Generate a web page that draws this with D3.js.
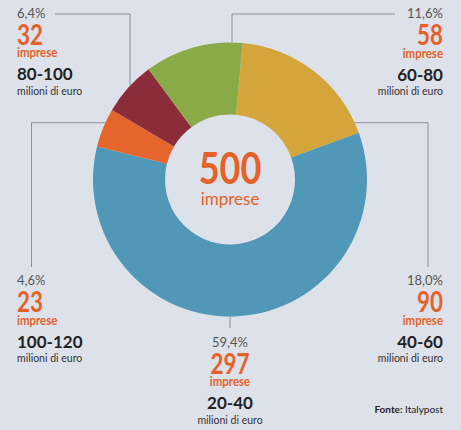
<!DOCTYPE html>
<html>
<head>
<meta charset="utf-8">
<script src="https://cdn.jsdelivr.net/npm/d3@7"></script>
<style>
  html, body { margin: 0; padding: 0; background: #dde1e9; }
  svg { display: block; font-family: Lato, "Open Sans", sans-serif; }
</style>
</head>
<body>
<svg id="chart" width="461" height="430"></svg>
<script>
// clockwise from the top
const fasce = ["40-60", "20-40", "100-120", "80-100", "60-80"];
const imprese = [90, 297, 23, 32, 58];
const colori = ["#d3a53a", "#5097b8", "#e5652d", "#8b2c3a", "#8aaa48"];
const totale = 500;
const fonte = ["Fonte:", " Italypost"];

const width = 461, height = 430;
const cx = 230, cy = 179.5;
const rOut = 137, rIn = 65;
const orange = "#e4622a";

const svg = d3.select("#chart");

const start = 5.3 * Math.PI / 180;
const pie = d3.pie().sort(null).startAngle(start).endAngle(start + 2 * Math.PI);
const arc = d3.arc().innerRadius(rIn).outerRadius(rOut);

const g = svg.append("g").attr("transform", `translate(${cx},${cy})`);
g.selectAll("path")
  .data(pie(imprese))
  .join("path")
  .attr("d", arc)
  .attr("fill", (d, i) => colori[i]);

// centre text
const num = (n) => d3.format(".1f")(n).replace(".", ",");
g.append("text")
  .attr("transform", "translate(0,4) scale(0.82,1)")
  .attr("text-anchor", "middle")
  .attr("font-size", 44).attr("font-weight", 700)
  .attr("fill", orange)
  .text(d3.sum(imprese));
g.append("text")
  .attr("y", 25.5)
  .attr("text-anchor", "middle")
  .attr("font-size", 17)
  .attr("fill", orange)
  .text("imprese");

// circle edge for a given x / y
const edgeY = (x, sign) => cy + sign * Math.sqrt(rOut * rOut - (x - cx) * (x - cx));
const edgeX = (y, sign) => cx + sign * Math.sqrt(rOut * rOut - (y - cy) * (y - cy));

// label blocks, same order as fasce
const blocchi = [
  { x: 443, y: 285, anchor: "end",
    line: [[edgeX(122.7, 1), 122.7], [428, 122.7], [428, 267]] },
  { x: 230, y: 346.5, anchor: "middle",
    line: [[230, edgeY(230, 1)], [230, 328]] },
  { x: 17, y: 285, anchor: "start",
    line: [[edgeX(122.7, -1), 122.7], [31.5, 122.7], [31.5, 267]] },
  { x: 17, y: 17.5, anchor: "start",
    line: [[55, 14], [130, 14], [130, edgeY(130, -1)]] },
  { x: 443, y: 18, anchor: "end",
    line: [[395, 14], [232, 14], [232, edgeY(232, -1)]] }
];

const lineGen = d3.line();
svg.append("g")
  .selectAll("path")
  .data(blocchi)
  .join("path")
  .attr("d", d => lineGen(d.line))
  .attr("fill", "none")
  .attr("stroke", "#8a8f99")
  .attr("stroke-width", 1);

blocchi.forEach((b, i) => {
  const lab = svg.append("g")
    .attr("transform", `translate(${b.x},${b.y})`)
    .attr("text-anchor", b.anchor);
  lab.append("text")
    .attr("font-size", 13).attr("fill", "#555")
    .text(num(imprese[i] / totale * 100) + "%");
  lab.append("text")
    .attr("transform", "translate(0,27) scale(0.8,1)")
    .attr("font-size", 28).attr("font-weight", 700).attr("fill", orange)
    .text(imprese[i]);
  lab.append("text")
    .attr("transform", "translate(0,39.5) scale(0.88,1)")
    .attr("font-size", 13).attr("font-weight", 700).attr("fill", orange)
    .text("imprese");
  lab.append("text")
    .attr("y", 62.5)
    .attr("font-size", 17).attr("font-weight", 700).attr("fill", "#222")
    .text(fasce[i]);
  lab.append("text")
    .attr("y", 77)
    .attr("font-size", 10.5).attr("fill", "#333")
    .text("milioni di euro");
});

const f = svg.append("text")
  .attr("x", 443).attr("y", 413)
  .attr("text-anchor", "end")
  .attr("font-size", 10).attr("fill", "#222");
f.append("tspan").attr("font-weight", 700).text(fonte[0]);
f.append("tspan").text(fonte[1]);
</script>
</body>
</html>
